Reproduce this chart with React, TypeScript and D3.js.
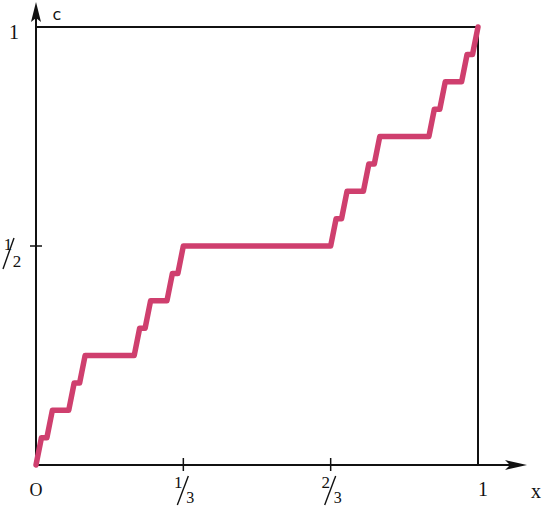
import React from "react";
import * as d3 from "d3";

// Cantor function (level-4 staircase) breakpoints: x in 81ths, y in 16ths
const xNum = [0,1,2,3,6,7,8,9,18,19,20,21,24,25,26,27,54,55,56,57,60,61,62,63,72,73,74,75,78,79,80,81];
const yNum = [0,1,1,2,2,3,3,4,4,5,5,6,6,7,7,8,8,9,9,10,10,11,11,12,12,13,13,14,14,15,15,16];
const xTicks = [{ v: 1 / 3, n: "1", d: "3" }, { v: 2 / 3, n: "2", d: "3" }];
const yTicks = [{ v: 1 / 2, n: "1", d: "2" }];

const W = 544, H = 508;
const X0 = 36, X1 = 478, Y0 = 465, Y1 = 27;

export default function App() {
  const x = d3.scaleLinear().domain([0, 1]).range([X0, X1]);
  const y = d3.scaleLinear().domain([0, 1]).range([Y0, Y1]);
  const pts: [number, number][] = xNum.map((v, i) => [v / 81, yNum[i] / 16]);
  const line = d3.line<[number, number]>().x(d => x(d[0])).y(d => y(d[1]));
  const font = "'Liberation Serif', serif";
  return (
    <svg width={W} height={H} style={{ position: "absolute", left: 0, top: 0, background: "#fff" }}>
      {/* axes */}
      <line x1={X0} y1={Y0} x2={520} y2={Y0} stroke="#111" strokeWidth={2} />
      <line x1={X0} y1={Y0} x2={X0} y2={10} stroke="#111" strokeWidth={2} />
      <path d={`M527,${Y0} L505,${Y0 - 5} L510,${Y0} L505,${Y0 + 5} Z`} fill="#111" />
      <path d={`M${X0},2 L${X0 - 5},22 L${X0},18 L${X0 + 5},22 Z`} fill="#111" />
      {/* box */}
      <line x1={X0} y1={y(1)} x2={x(1)} y2={y(1)} stroke="#111" strokeWidth={2} />
      <line x1={x(1)} y1={y(1)} x2={x(1)} y2={Y0} stroke="#111" strokeWidth={2} />
      {/* ticks */}
      {xTicks.map((t, i) => (
        <line key={i} x1={x(t.v)} x2={x(t.v)} y1={Y0 - 7} y2={Y0 + 6} stroke="#111" strokeWidth={1.5} />
      ))}
      {yTicks.map((t, i) => (
        <line key={i} x1={X0 - 6} x2={X0 + 6} y1={y(t.v)} y2={y(t.v)} stroke="#111" strokeWidth={1.5} />
      ))}
      {/* curve */}
      <path d={line(pts) || ""} fill="none" stroke="#cf3f6e" strokeWidth={5.5} strokeLinejoin="round" strokeLinecap="round" />
      {/* labels */}
      <text x={X0} y={496} fontFamily={font} fontSize={18} textAnchor="middle" fill="#111">O</text>
      <text x={x(1) + 5} y={496} fontFamily={font} fontSize={20} textAnchor="middle" fill="#111">1</text>
      <text x={536} y={498} fontFamily={font} fontSize={20} textAnchor="middle" fill="#111">x</text>
      <text x={14} y={39} fontFamily={font} fontSize={20} textAnchor="middle" fill="#111">1</text>
      <text x={57} y={20} fontFamily="'DejaVu Sans', sans-serif" fontSize={16} textAnchor="middle" fill="#111">c</text>
      {xTicks.map((t, i) => (
        <g key={i} fontFamily={font} fill="#111">
          <text x={x(t.v) - 5} y={488} fontSize={17} textAnchor="middle">{t.n}</text>
          <line x1={x(t.v) - 6} y1={505} x2={x(t.v) + 5} y2={476} stroke="#111" strokeWidth={1.4} />
          <text x={x(t.v) + 7} y={503} fontSize={16} textAnchor="middle">{t.d}</text>
        </g>
      ))}
      {yTicks.map((t, i) => (
        <g key={i} fontFamily={font} fill="#111">
          <text x={8} y={y(t.v) + 4} fontSize={17} textAnchor="middle">{t.n}</text>
          <line x1={3} y1={y(t.v) + 23} x2={14} y2={y(t.v) - 8} stroke="#111" strokeWidth={1.4} />
          <text x={17} y={y(t.v) + 21} fontSize={17} textAnchor="middle">{t.d}</text>
        </g>
      ))}
    </svg>
  );
}
